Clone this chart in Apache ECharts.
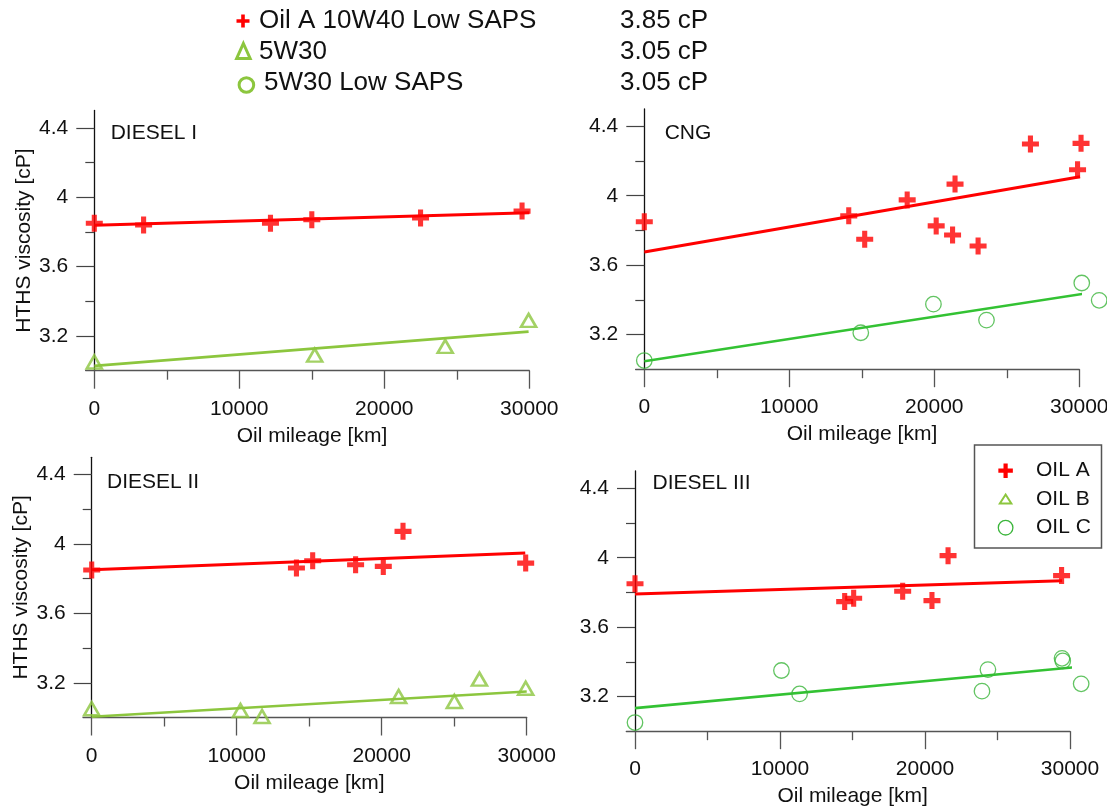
<!DOCTYPE html>
<html>
<head>
<meta charset="utf-8">
<title>HTHS viscosity vs oil mileage</title>
<script src="https://cdn.jsdelivr.net/npm/echarts@6/dist/echarts.min.js"></script>
<style>
  html, body { margin: 0; padding: 0; background: #fff; }
  #chart { width: 1107px; height: 806px; }
</style>
</head>
<body>
<div id="chart"></div>
<script>
// ---- data -------------------------------------------------------------
// Header key: oil grade and its fresh-oil HTHS viscosity
const oilLabels = ['Oil A 10W40 Low SAPS', '5W30', '5W30 Low SAPS'];
const freshHTHS = [3.85, 3.05, 3.05];
const keyNames = ['OIL A', 'OIL B', 'OIL C'];
const panelTitles = ['DIESEL I', 'CNG', 'DIESEL II', 'DIESEL III'];

const xTickValues = [0, 10000, 20000, 30000];
const xMinorTickValues = [5000, 15000, 25000];
const yTickValues = [3.2, 3.6, 4.0, 4.4];
const yMinorTickValues = [3.4, 3.8, 4.2];

// DIESEL I  [mileage km, HTHS cP]
const dieselI_oilA = [[0, 3.85], [3400, 3.84], [12150, 3.85], [15000, 3.87], [22500, 3.88], [29500, 3.92]];
const dieselI_oilB = [[0, 3.05], [15200, 3.09], [24200, 3.14], [29950, 3.29]];
const dieselI_fitA = [[0, 3.838], [30000, 3.911]];
const dieselI_fitB = [[0, 3.028], [29950, 3.225]];

// CNG
const cng_oilA = [[0, 3.85], [14100, 3.884], [15200, 3.749], [18130, 3.976], [20130, 3.826], [21430, 4.067],
                  [21260, 3.774], [23020, 3.71], [26630, 4.298], [30120, 4.302], [29880, 4.15]];
const cng_oilC = [[0, 3.05], [14930, 3.21], [19940, 3.375], [23600, 3.283], [30170, 3.497], [31370, 3.397]];
const cng_fitA = [[0, 3.676], [30050, 4.109]];
const cng_fitC = [[0, 3.046], [31370, 3.449]];

// DIESEL II
const dieselII_oilA = [[0, 3.85], [14120, 3.862], [15240, 3.904], [18200, 3.881], [20110, 3.871], [21470, 4.073], [29930, 3.89]];
const dieselII_oilB = [[0, 3.05], [10260, 3.04], [11750, 3.006], [21170, 3.121], [25010, 3.092], [26740, 3.221], [29930, 3.169]];
const dieselII_fitA = [[0, 3.852], [29900, 3.948]];
const dieselII_fitB = [[0, 3.004], [30000, 3.15]];

// DIESEL III
const dieselIII_oilA = [[0, 3.85], [14460, 3.747], [15080, 3.766], [18460, 3.807], [20480, 3.753], [21590, 4.012], [29420, 3.897]];
const dieselIII_oilC = [[0, 3.05], [10100, 3.35], [11350, 3.215], [23930, 3.231], [24340, 3.355], [29450, 3.42], [29500, 3.405], [30770, 3.273]];
const dieselIII_fitA = [[0, 3.791], [29450, 3.868]];
const dieselIII_fitC = [[0, 3.133], [30850, 3.373]];

// ---- styling --------------------------------------------------------
const FONT = '"Liberation Sans", Arial, sans-serif';
const TEXT = '#111';
const RED = '#ff0000';
const YGREEN = '#8cc63e';
const GREEN = '#33c233';
const PLUS_PATH = 'path://M35 0H65V35H100V65H65V100H35V65H0V35H35Z';

const kinds = [
  { name: keyNames[0], lineColor: RED, lineWidth: 3, symbol: PLUS_PATH, symbolSize: 17,
    itemStyle: { color: RED } },
  { name: keyNames[1], lineColor: YGREEN, lineWidth: 2.6, symbol: 'triangle', symbolSize: [15, 13],
    itemStyle: { color: 'rgba(0,0,0,0)', borderColor: YGREEN, borderWidth: 2.6 } },
  { name: keyNames[2], lineColor: GREEN, lineWidth: 2.6, symbol: 'circle', symbolSize: 15.5,
    itemStyle: { color: 'rgba(0,0,0,0)', borderColor: '#3bb53b', borderWidth: 1.3 } }
];

const panels = [
  { title: panelTitles[0], box: { left: 85.6, top: 110.5 }, titleAt: [110.7, 133], yName: true,
    sets: [{ kind: 0, pts: dieselI_oilA, fit: dieselI_fitA }, { kind: 1, pts: dieselI_oilB, fit: dieselI_fitB }] },
  { title: panelTitles[1], box: { left: 635.6, top: 109 }, titleAt: [664.7, 133], yName: false,
    sets: [{ kind: 0, pts: cng_oilA, fit: cng_fitA }, { kind: 2, pts: cng_oilC, fit: cng_fitC }] },
  { title: panelTitles[2], box: { left: 83, top: 457.3 }, titleAt: [107, 482], yName: true,
    sets: [{ kind: 0, pts: dieselII_oilA, fit: dieselII_fitA }, { kind: 1, pts: dieselII_oilB, fit: dieselII_fitB }] },
  { title: panelTitles[3], box: { left: 626.3, top: 471 }, titleAt: [652.5, 483.5], yName: false,
    sets: [{ kind: 0, pts: dieselIII_oilA, fit: dieselIII_fitA }, { kind: 2, pts: dieselIII_oilC, fit: dieselIII_fitC }] }
];

const X_MIN = -600, X_MAX = 30000, Y_MIN = 3.0, Y_MAX = 4.5;
const GRID_W = 443.7, GRID_H = 260.2;
// the vertical axis sits at zero mileage, slightly inside the grid's left edge
const Y_AXIS_SHIFT = -(0 - X_MIN) * GRID_W / (X_MAX - X_MIN);

const grids = [], xAxes = [], yAxes = [], series = [], graphics = [];
const plainNum = v => String(v);

panels.forEach((p, i) => {
  grids.push({ left: p.box.left, top: p.box.top, width: GRID_W, height: GRID_H,
               containLabel: false, outerBoundsMode: 'none' });

  xAxes.push({
    gridIndex: i, type: 'value', min: X_MIN, max: X_MAX, position: 'bottom',
    axisLine: { show: true, onZero: false, lineStyle: { color: '#555', width: 1.3 } },
    axisTick: { show: true, customValues: xTickValues, length: 18, lineStyle: { color: '#555', width: 1.3 } },
    axisLabel: { customValues: xTickValues, formatter: plainNum, fontSize: 21, color: TEXT, fontFamily: FONT, margin: 28 },
    splitLine: { show: false },
    name: 'Oil mileage [km]', nameLocation: 'middle', nameGap: 55, nameMoveOverlap: false,
    nameTextStyle: { fontSize: 21, color: TEXT, fontFamily: FONT, padding: [0, 0, 0, 9] }
  });
  xAxes.push({
    gridIndex: i, type: 'value', min: X_MIN, max: X_MAX, position: 'bottom',
    axisLine: { show: false, onZero: false },
    axisTick: { show: true, customValues: xMinorTickValues, length: 9, lineStyle: { color: '#555', width: 1.3 } },
    axisLabel: { show: false }, splitLine: { show: false }
  });

  yAxes.push({
    gridIndex: i, type: 'value', min: Y_MIN, max: Y_MAX, position: 'left', offset: Y_AXIS_SHIFT,
    axisLine: { show: true, onZero: false, lineStyle: { color: '#111', width: 1.3 } },
    axisTick: { show: true, customValues: yTickValues, length: 18, lineStyle: { color: '#444', width: 1.2 } },
    axisLabel: { customValues: yTickValues, formatter: plainNum, fontSize: 21, color: TEXT, fontFamily: FONT, margin: 26 },
    splitLine: { show: false },
    name: p.yName ? 'HTHS viscosity [cP]' : '', nameLocation: 'middle', nameGap: 60, nameMoveOverlap: false,
    nameTextStyle: { fontSize: 21, color: TEXT, fontFamily: FONT }
  });
  yAxes.push({
    gridIndex: i, type: 'value', min: Y_MIN, max: Y_MAX, position: 'left', offset: Y_AXIS_SHIFT,
    axisLine: { show: false, onZero: false },
    axisTick: { show: true, customValues: yMinorTickValues, length: 9, lineStyle: { color: '#444', width: 1.2 } },
    axisLabel: { show: false }, splitLine: { show: false }
  });

  p.sets.forEach(s => {
    const k = kinds[s.kind];
    series.push({
      type: 'line', name: k.name, xAxisIndex: 2 * i, yAxisIndex: 2 * i, data: s.fit,
      symbol: 'none', showSymbol: false, clip: false, silent: true, z: 2,
      lineStyle: { color: k.lineColor, width: k.lineWidth }
    });
    series.push({
      type: 'scatter', name: k.name, xAxisIndex: 2 * i, yAxisIndex: 2 * i, data: s.pts,
      symbol: k.symbol, symbolSize: k.symbolSize, itemStyle: k.itemStyle, clip: false, silent: true, z: 3
    });
  });

  graphics.push({ type: 'text', x: p.titleAt[0], y: p.titleAt[1], silent: true,
    style: { text: p.title, font: '21px ' + FONT, fill: TEXT, textVerticalAlign: 'middle' } });
});

// ---- key symbols ------------------------------------------------------
function plusPoints(cx, cy, s, t) {
  const h = s / 2, a = t / 2;
  return [[cx - a, cy - h], [cx + a, cy - h], [cx + a, cy - a], [cx + h, cy - a], [cx + h, cy + a], [cx + a, cy + a],
          [cx + a, cy + h], [cx - a, cy + h], [cx - a, cy + a], [cx - h, cy + a], [cx - h, cy - a], [cx - a, cy - a]];
}
function triPoints(cx, cy, w, h) {
  return [[cx, cy - h / 2], [cx + w / 2, cy + h / 2], [cx - w / 2, cy + h / 2]];
}

// header key
const headRows = [20.5, 51.5, 82.5];
const headTextX = [259, 259, 264];
graphics.push({ type: 'polygon', silent: true, shape: { points: plusPoints(243, 21, 13, 3.6) }, style: { fill: RED } });
graphics.push({ type: 'polygon', silent: true, shape: { points: triPoints(243.4, 51, 13.5, 15) },
  style: { fill: 'none', stroke: YGREEN, lineWidth: 3, lineJoin: 'miter' } });
graphics.push({ type: 'circle', silent: true, shape: { cx: 246.4, cy: 85, r: 7.3 },
  style: { fill: 'none', stroke: YGREEN, lineWidth: 3 } });
oilLabels.forEach((label, j) => {
  graphics.push({ type: 'text', x: headTextX[j], y: headRows[j], silent: true,
    style: { text: label, font: '26px ' + FONT, fill: TEXT, textVerticalAlign: 'middle' } });
  graphics.push({ type: 'text', x: 620, y: headRows[j], silent: true,
    style: { text: freshHTHS[j].toFixed(2) + ' cP', font: '26px ' + FONT, fill: TEXT, textVerticalAlign: 'middle' } });
});

// boxed key
const keyRows = [470.7, 499, 527.7];
graphics.push({ type: 'rect', silent: true, shape: { x: 974.5, y: 445, width: 127, height: 103 },
  style: { fill: '#fff', stroke: '#555', lineWidth: 1.5 }, z: 10 });
graphics.push({ type: 'polygon', silent: true, z: 11, shape: { points: plusPoints(1005.6, keyRows[0], 14.5, 4.2) }, style: { fill: RED } });
graphics.push({ type: 'polygon', silent: true, z: 11, shape: { points: triPoints(1005.6, keyRows[1], 11.5, 9) },
  style: { fill: 'none', stroke: YGREEN, lineWidth: 2 } });
graphics.push({ type: 'circle', silent: true, z: 11, shape: { cx: 1005.6, cy: keyRows[2], r: 7.3 },
  style: { fill: 'none', stroke: '#3bb53b', lineWidth: 1.3 } });
keyNames.forEach((n, j) => {
  graphics.push({ type: 'text', x: 1036, y: keyRows[j], silent: true, z: 11,
    style: { text: n, font: '21px ' + FONT, fill: TEXT, textVerticalAlign: 'middle' } });
});

const chart = echarts.init(document.getElementById('chart'), null, { renderer: 'canvas' });
chart.setOption({
  animation: false,
  backgroundColor: '#fff',
  textStyle: { fontFamily: FONT },
  grid: grids,
  xAxis: xAxes,
  yAxis: yAxes,
  series: series,
  graphic: graphics
});
</script>
</body>
</html>
